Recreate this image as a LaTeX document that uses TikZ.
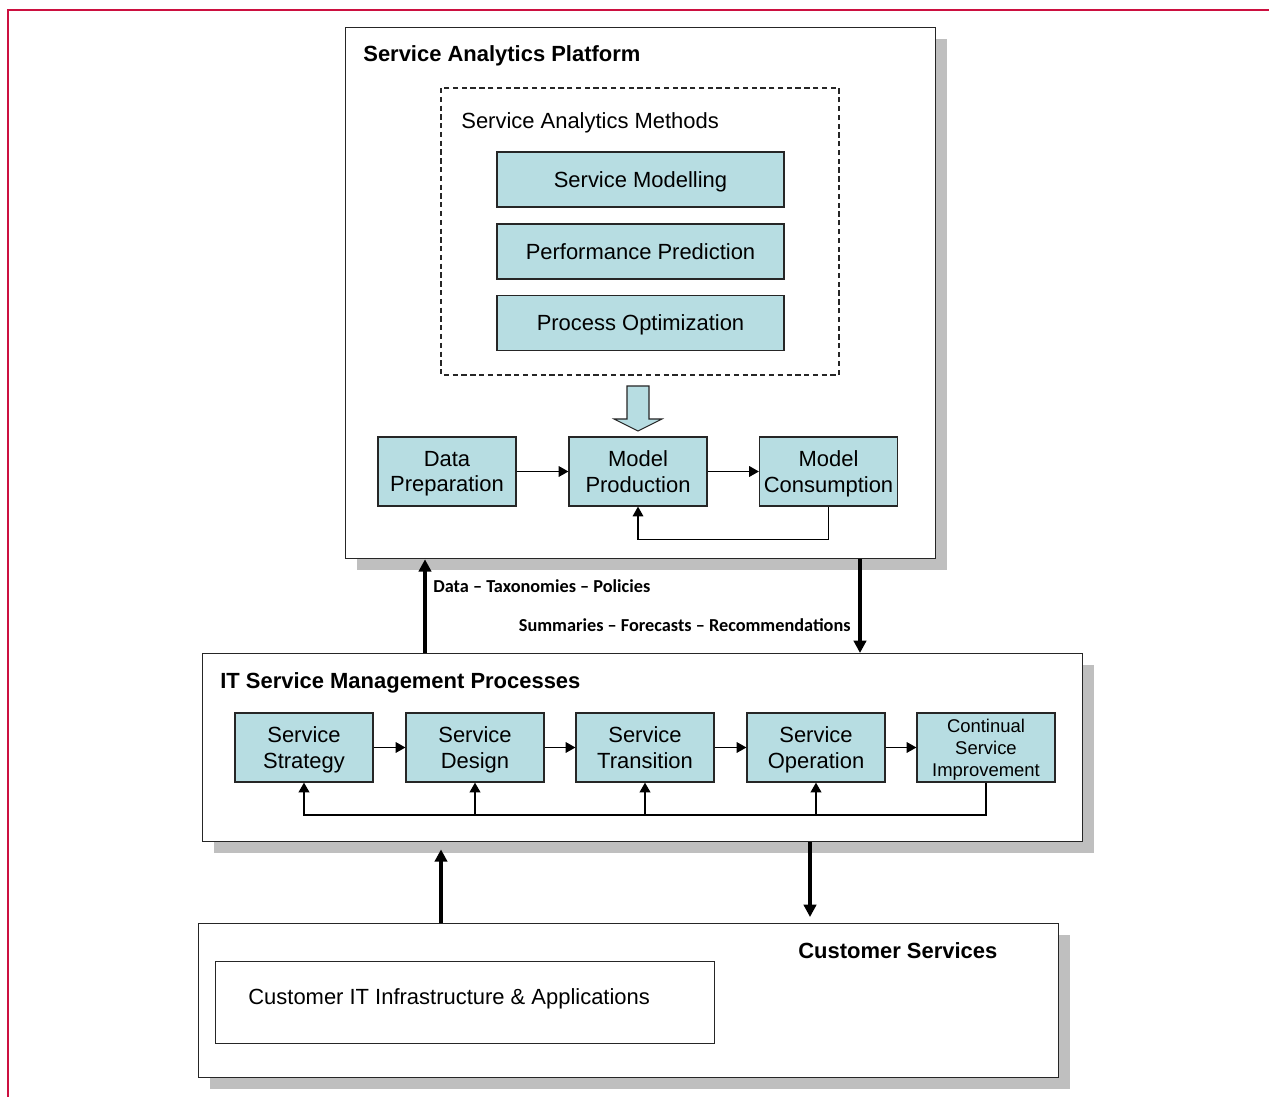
\documentclass[tikz,border=0pt]{standalone}
\usepackage{fontspec}
\setmainfont{Liberation Sans}
\newfontfamily\labelfont{Carlito}
\usetikzlibrary{arrows.meta,positioning}
\definecolor{boxblue}{RGB}{183,221,226}
\definecolor{shadowgray}{RGB}{191,191,191}
\definecolor{framered}{RGB}{204,16,64}

\begin{document}
\begin{tikzpicture}[x=0.02cm, y=-0.02cm,
    font=\fontsize{12.5}{14.7}\selectfont,
    procbox/.style={draw=black!85, fill=boxblue, line width=0.7pt, minimum width=2.76cm, minimum height=1.38cm, align=center, inner sep=1pt, text depth=0pt},
    methbox/.style={procbox, minimum width=5.74cm, minimum height=1.1cm},
    panel/.style={draw=black!85, fill=white, line width=0.8pt, anchor=north west, inner sep=0pt},
    shade/.style={fill=shadowgray},
    flow/.style={-{Triangle[length=5.5pt,width=6pt]}, line width=0.8pt},
    bigflow/.style={-{Triangle[length=7pt,width=7pt]}, line width=2pt},
    plaintext/.style={anchor=base west, inner sep=0pt},
    paneltitle/.style={plaintext, font=\fontsize{12.5}{14.7}\selectfont\bfseries},
    flowlabel/.style={inner sep=0pt, font=\labelfont\fontsize{10.4}{12}\selectfont\bfseries}]
  \useasboundingbox (0,0) rectangle (1269,1097);
  % frame
  \draw[framered, line width=1.1pt] (8,1097) -- (8,10) -- (1269,10);

  % panels with shadows
  \fill[shade] (357,39) rectangle (947,570);
  \node[panel, minimum width=11.8cm, minimum height=10.62cm] (sap) at (345,27) {};
  \fill[shade] (214,665) rectangle (1094,853);
  \node[panel, minimum width=17.6cm, minimum height=3.76cm] (itsm) at (202,653) {};
  \fill[shade] (210,935) rectangle (1070,1089);
  \node[panel, minimum width=17.2cm, minimum height=3.08cm] (cust) at (198,923) {};

  % Service Analytics Platform
  \node[paneltitle] at (363,62) {Service Analytics Platform};
  \draw[black!85, line width=0.6pt, dash pattern=on 3pt off 2pt] (441,88) rectangle (839,375);
  \node[plaintext] at (461,129) {Service Analytics Methods};
  \node[methbox] (model) at (640.5,179.5) {Service Modelling};
  \node[methbox] (predict) at (640.5,251.5) {Performance Prediction};
  \node[methbox] (optim) at (640.5,323) {Process Optimization};
  \draw[black!85, fill=boxblue, line width=0.6pt]
    (627,386) -- (649,386) -- (649,419) -- (662,419) -- (638,431) -- (614,419) -- (627,419) -- cycle;

  \node[procbox] (prep) at (447,471.5) {Data\\Preparation};
  \node[procbox] (prod) at (638,471.5) {Model\\Production};
  \node[procbox] (cons) at (828.5,471.5) {Model\\Consumption};
  \draw[flow] (prep) -- (prod);
  \draw[flow] (prod) -- (cons);
  \draw[flow] (cons.south) -- ++(0,33) -| (prod.south);

  % exchange between platform and ITSM
  \coordinate (upA) at (425,0);
  \coordinate (downA) at (860,0);
  \draw[bigflow] (itsm.north -| upA) -- (sap.south -| upA);
  \draw[bigflow] (sap.south -| downA) -- (itsm.north -| downA);
  \node[flowlabel, anchor=base west] at (433,593) {Data \textendash{} Taxonomies \textendash{} Policies};
  \node[flowlabel, anchor=base east] at (851,632) {Summaries \textendash{} Forecasts \textendash{} Recommendations};

  % IT Service Management Processes
  \node[paneltitle] at (220,689) {IT Service Management Processes};
  \node[procbox] (strat) at (304,747.5) {Service\\Strategy};
  \node[procbox] (design) at (475,747.5) {Service\\Design};
  \node[procbox] (trans) at (645,747.5) {Service\\Transition};
  \node[procbox] (oper) at (816,747.5) {Service\\Operation};
  \node[procbox, font=\fontsize{10.5}{12.5}\selectfont] (csi) at (986,747.5) {Continual\\Service\\Improvement};
  \draw[flow] (strat) -- (design);
  \draw[flow] (design) -- (trans);
  \draw[flow] (trans) -- (oper);
  \draw[flow] (oper) -- (csi);
  \coordinate (loop) at (0,815);
  \draw[flow, line width=1pt] (csi.south) |- (loop -| strat.south) -- (strat.south);
  \foreach \b in {design,trans,oper}
    \draw[flow, line width=1pt] (loop -| \b.south) -- (\b.south);

  % customer side
  \coordinate (upB) at (441,0);
  \coordinate (downB) at (810,0);
  \draw[bigflow, shorten >=4pt] (cust.north -| upB) -- (itsm.south -| upB);
  \draw[bigflow, shorten >=3.4pt] (itsm.south -| downB) -- (cust.north -| downB);
  \node[paneltitle] at (798,959) {Customer Services};
  \node[panel, minimum width=9.98cm, minimum height=1.64cm] (infra) at (215,961) {};
  \node[plaintext] at (248,1005) {Customer IT Infrastructure \& Applications};
\end{tikzpicture}
\end{document}
